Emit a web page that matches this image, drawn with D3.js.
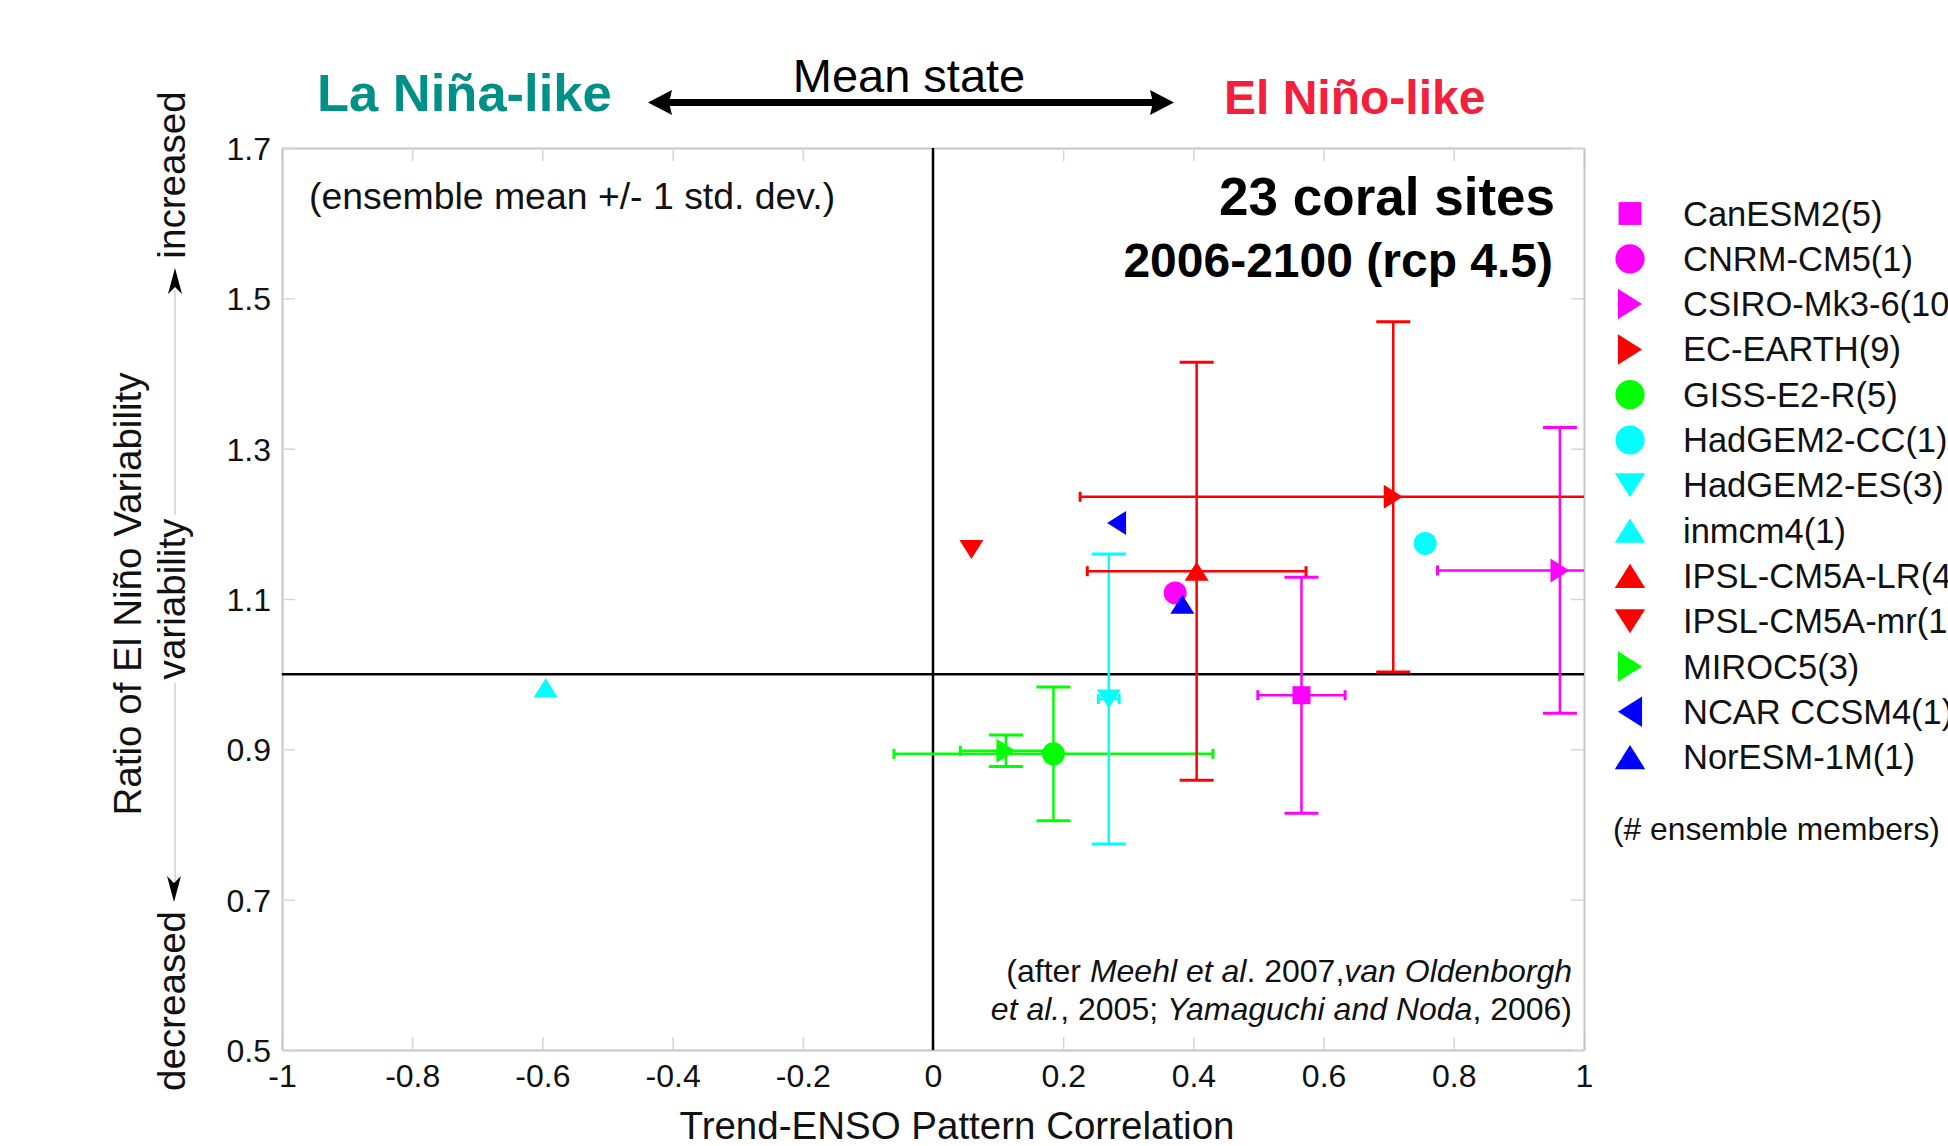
<!DOCTYPE html>
<html>
<head>
<meta charset="utf-8">
<script src="https://cdn.jsdelivr.net/npm/d3@7"></script>
<style>
  body { margin: 0; background: #fff; overflow: hidden; }
  svg { display: block; font-family: "Liberation Sans", Arial, sans-serif; }
</style>
</head>
<body>
<div id="chart"></div>
<script>
// model names as in the legend
var models = ["CanESM2(5)", "CNRM-CM5(1)", "CSIRO-Mk3-6(10)", "EC-EARTH(9)", "GISS-E2-R(5)",
  "HadGEM2-CC(1)", "HadGEM2-ES(3)", "inmcm4(1)", "IPSL-CM5A-LR(4)", "IPSL-CM5A-mr(1)",
  "MIROC5(3)", "NCAR CCSM4(1)", "NorESM-1M(1)"];

// ensemble mean (x = trend-ENSO pattern correlation, y = variability ratio)
var xMean = [0.566, 0.372, 0.963, 0.707, 0.185, 0.756, 0.270, -0.595, 0.405, 0.059, 0.112, 0.282, 0.383];
var yMean = [0.972, 1.108, 1.138, 1.236, 0.894, 1.174, 0.967, 0.982, 1.137, 1.166, 0.898, 1.201, 1.093];
// +/- 1 std. dev. (null = single member)
var xStd = [0.067, null, 0.188, 0.481, 0.245, null, 0.016, null, 0.168, null, 0.070, null, null];
var yStd = [0.157, null, 0.190, 0.233, 0.089, null, 0.193, null, 0.278, null, 0.021, null, null];

var shapes = ["square", "circle", "right", "right", "circle", "circle", "down", "up", "up", "down", "right", "left", "up"];
var colors = ["#ff00ff", "#ff00ff", "#ff00ff", "#ff0000", "#00ff00", "#00ffff", "#00ffff", "#00ffff",
  "#ff0000", "#ff0000", "#00ff00", "#0000ff", "#0000ff"];

var xTicks = [-1, -0.8, -0.6, -0.4, -0.2, 0, 0.2, 0.4, 0.6, 0.8, 1];
var yTicks = [0.5, 0.7, 0.9, 1.1, 1.3, 1.5, 1.7];

var W = 1948, H = 1146;
var pL = 282, pR = 1584, pT = 148, pB = 1050;

var svg = d3.select("#chart").append("svg")
  .attr("width", W)
  .attr("height", H);

var x = d3.scaleLinear().domain([-1, 1]).range([pL, pR]);
var y = d3.scaleLinear().domain([0.5, 1.7]).range([pB, pT]);

function markerPath(shape, s) {
  var p = d3.path();
  var w = 12 * s, h = 9.5 * s;
  if (shape == "square") { p.rect(-9 * s, -9 * s, 18 * s, 18 * s); }
  else if (shape == "circle") { p.arc(0, 0, 11.5 * s, 0, 2 * Math.PI); }
  else if (shape == "up") { p.moveTo(0, -h); p.lineTo(w, h); p.lineTo(-w, h); }
  else if (shape == "down") { p.moveTo(0, h); p.lineTo(w, -h); p.lineTo(-w, -h); }
  else if (shape == "right") { p.moveTo(h, 0); p.lineTo(-h, -w); p.lineTo(-h, w); }
  else if (shape == "left") { p.moveTo(-h, 0); p.lineTo(h, -w); p.lineTo(h, w); }
  p.closePath();
  return p.toString();
}

// axes: light grey frame with inward ticks
var gridGrey = "#c4c4c4";
var fmt = function (d) { return String(d); };

var axB = svg.append("g").attr("transform", "translate(0," + pB + ")")
  .call(d3.axisBottom(x).tickValues(xTicks).tickFormat(fmt).tickSizeInner(-13).tickSizeOuter(0).tickPadding(24));
var axT = svg.append("g").attr("transform", "translate(0," + pT + ")")
  .call(d3.axisTop(x).tickValues(xTicks).tickFormat("").tickSizeInner(-13).tickSizeOuter(0));
var axL = svg.append("g").attr("transform", "translate(" + pL + ",0)")
  .call(d3.axisLeft(y).tickValues(yTicks).tickFormat(fmt).tickSizeInner(-13).tickSizeOuter(0).tickPadding(24));
var axR = svg.append("g").attr("transform", "translate(" + pR + ",0)")
  .call(d3.axisRight(y).tickValues(yTicks).tickFormat("").tickSizeInner(-13).tickSizeOuter(0));

[axB, axT, axL, axR].forEach(function (g) {
  g.select(".domain").attr("stroke", gridGrey).attr("stroke-width", 2);
  g.selectAll(".tick line").attr("stroke", "#d6d6d6").attr("stroke-width", 1.5);
  g.selectAll(".tick text").attr("fill", "#111").style("font-size", "32px")
    .style("font-family", "'Liberation Sans', Arial, sans-serif");
});
axL.selectAll(".tick text").attr("dy", "0.36em").attr("x", -11);
axB.selectAll(".tick text").attr("dy", 0).attr("y", 37);

// reference lines at x=0 and y=1
svg.append("line").attr("x1", x(0)).attr("x2", x(0)).attr("y1", pT).attr("y2", pB)
  .attr("stroke", "#000").attr("stroke-width", 2.5);
svg.append("line").attr("x1", pL).attr("x2", pR).attr("y1", y(1)).attr("y2", y(1))
  .attr("stroke", "#000").attr("stroke-width", 2.5);

svg.append("clipPath").attr("id", "plotclip").append("rect")
  .attr("x", pL).attr("y", pT).attr("width", pR - pL).attr("height", pB - pT);

var dataG = svg.append("g").attr("clip-path", "url(#plotclip)");

models.forEach(function (m, i) {
  var g = dataG.append("g").attr("class", "model");
  var cx = x(xMean[i]), cy = y(yMean[i]);
  if (xStd[i] != null) {
    var x0 = x(xMean[i] - xStd[i]), x1 = x(xMean[i] + xStd[i]);
    g.append("line").attr("x1", x0).attr("x2", x1).attr("y1", cy).attr("y2", cy)
      .attr("stroke", colors[i]).attr("stroke-width", 2.5);
    [x0, x1].forEach(function (xx) {
      g.append("line").attr("x1", xx).attr("x2", xx).attr("y1", cy - 5).attr("y2", cy + 5)
        .attr("stroke", colors[i]).attr("stroke-width", 3);
    });
  }
  if (yStd[i] != null) {
    var y0 = y(yMean[i] - yStd[i]), y1 = y(yMean[i] + yStd[i]);
    g.append("line").attr("x1", cx).attr("x2", cx).attr("y1", y0).attr("y2", y1)
      .attr("stroke", colors[i]).attr("stroke-width", 2.5);
    [y0, y1].forEach(function (yy) {
      g.append("line").attr("x1", cx - 17).attr("x2", cx + 17).attr("y1", yy).attr("y2", yy)
        .attr("stroke", colors[i]).attr("stroke-width", 3);
    });
  }
  g.append("path")
    .attr("d", markerPath(shapes[i], 1))
    .attr("transform", "translate(" + cx + "," + cy + ")")
    .attr("fill", colors[i]);
});

// legend (runs off the right edge, as in the original figure)
var leg = svg.append("g").attr("class", "legend");
var legItems = leg.selectAll("g").data(models).enter().append("g")
  .attr("transform", function (d, i) { return "translate(1630," + (213.5 + i * 45.3) + ")"; });
legItems.append("path")
  .attr("d", function (d, i) { return markerPath(shapes[i], 1.27); })
  .attr("fill", function (d, i) { return colors[i]; });
legItems.append("text")
  .attr("x", 53).attr("y", 12)
  .style("font-size", "34.5px").attr("fill", "#111")
  .text(function (d) { return d; });
leg.append("text").attr("x", 1613).attr("y", 840)
  .style("font-size", "31.8px").attr("fill", "#111")
  .text("(# ensemble members)");

// header: mean state arrow
svg.append("text").attr("x", 317).attr("y", 111).attr("fill", "#009088")
  .style("font-size", "52.5px").style("font-weight", "bold").text("La Niña-like");
svg.append("text").attr("x", 1224).attr("y", 114).attr("fill", "#f31f3c")
  .style("font-size", "48px").style("font-weight", "bold").text("El Niño-like");
svg.append("text").attr("x", 909).attr("y", 92).attr("text-anchor", "middle").attr("fill", "#000")
  .style("font-size", "47px").text("Mean state");

var ay = 102.5, ax0 = 648, ax1 = 1174;
svg.append("line").attr("x1", ax0 + 18).attr("x2", ax1 - 18).attr("y1", ay).attr("y2", ay)
  .attr("stroke", "#000").attr("stroke-width", 7);
svg.append("path").attr("fill", "#000")
  .attr("d", "M" + ax0 + "," + ay + " L" + (ax0 + 24) + "," + (ay - 12.5) + " L" + (ax0 + 21) + "," + ay +
    " L" + (ax0 + 24) + "," + (ay + 12.5) + " Z");
svg.append("path").attr("fill", "#000")
  .attr("d", "M" + ax1 + "," + ay + " L" + (ax1 - 24) + "," + (ay - 12.5) + " L" + (ax1 - 21) + "," + ay +
    " L" + (ax1 - 24) + "," + (ay + 12.5) + " Z");

// in-plot annotations
svg.append("text").attr("x", 309).attr("y", 209).attr("fill", "#111")
  .style("font-size", "37.4px").text("(ensemble mean +/- 1 std. dev.)");
svg.append("text").attr("x", 1555).attr("y", 215).attr("text-anchor", "end").attr("fill", "#000")
  .style("font-size", "53px").style("font-weight", "bold").text("23 coral sites");
svg.append("text").attr("x", 1553).attr("y", 277).attr("text-anchor", "end").attr("fill", "#000")
  .style("font-size", "48px").style("font-weight", "bold").text("2006-2100 (rcp 4.5)");

var foot = [
  [["(after ", false], ["Meehl et al", true], [". 2007,", false], ["van Oldenborgh", true]],
  [["et al.", true], [", 2005; ", false], ["Yamaguchi and Noda", true], [", 2006)", false]]
];
foot.forEach(function (line, k) {
  var t = svg.append("text").attr("x", 1572).attr("y", 982 + k * 38)
    .attr("text-anchor", "end").attr("fill", "#111").style("font-size", "32px");
  line.forEach(function (part) {
    t.append("tspan").style("font-style", part[1] ? "italic" : "normal").text(part[0]);
  });
});

// axis titles
svg.append("text").attr("x", 957).attr("y", 1139).attr("text-anchor", "middle").attr("fill", "#111")
  .style("font-size", "38.5px").text("Trend-ENSO Pattern Correlation");

function vtext(txt, bx, cy) {
  svg.append("text").attr("transform", "translate(" + bx + "," + cy + ") rotate(-90)")
    .attr("text-anchor", "middle").attr("fill", "#111").style("font-size", "38.6px").text(txt);
}
vtext("Ratio of El Niño Variability", 141, 594);
vtext("variability", 185, 599);
vtext("increased", 185, 175);
vtext("decreased", 185, 1001);

// thin grey guide lines with arrowheads
svg.append("line").attr("x1", 175).attr("x2", 175).attr("y1", 290).attr("y2", 515)
  .attr("stroke", "#cfcfcf").attr("stroke-width", 1.5);
svg.append("line").attr("x1", 175).attr("x2", 175).attr("y1", 683).attr("y2", 882)
  .attr("stroke", "#cfcfcf").attr("stroke-width", 1.5);
svg.append("path").attr("fill", "#000")
  .attr("d", "M175,268 L182,294 L175,287 L168,294 Z");
svg.append("path").attr("fill", "#000")
  .attr("d", "M174,902 L181,876 L174,883 L167,876 Z");
</script>
</body>
</html>
